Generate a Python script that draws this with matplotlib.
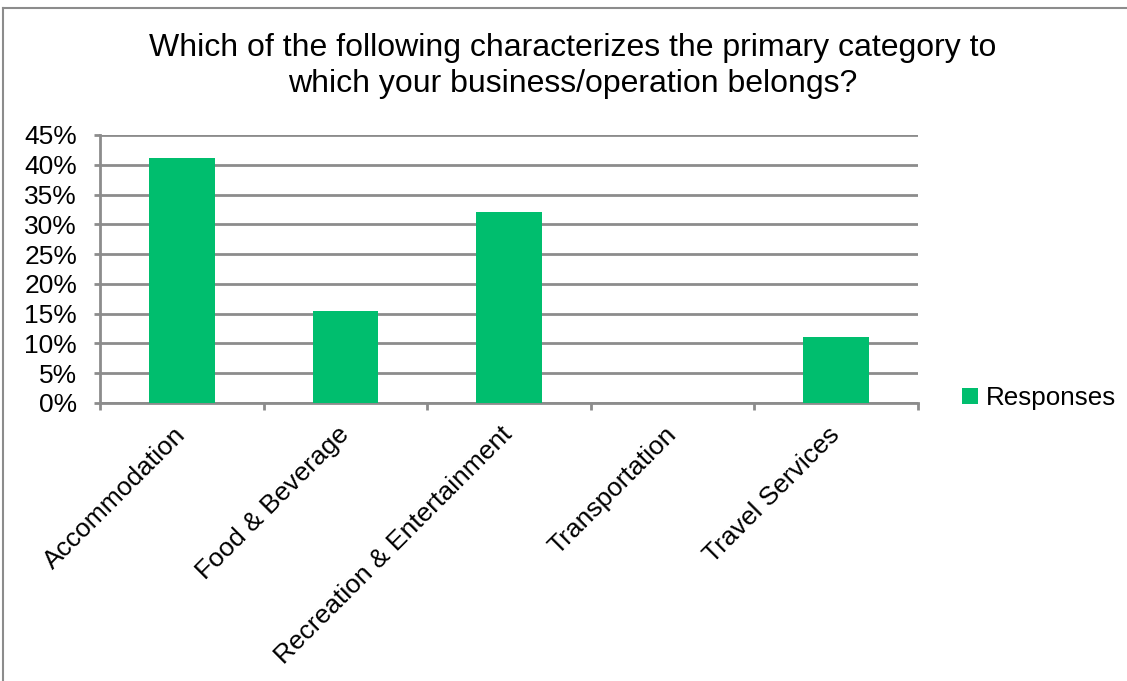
import matplotlib
matplotlib.use("Agg")
import matplotlib.pyplot as plt
from matplotlib.lines import Line2D
from matplotlib.patches import Patch

categories = ["Accommodation", "Food & Beverage", "Recreation & Entertainment",
              "Transportation", "Travel Services"]
responses = [41.2, 15.5, 32.0, 0.0, 11.0]
yticks = [0, 5, 10, 15, 20, 25, 30, 35, 40, 45]
title = "Which of the following characterizes the primary category to\nwhich your business/operation belongs?"
series_name = "Responses"

W, H = 1127, 681
plt.rcParams['font.family'] = ['Liberation Sans', 'DejaVu Sans']
fig = plt.figure(figsize=(W / 100, H / 100), dpi=100)

green = "#00BE6E"
grid_c = "#8C8C8C"

ax = fig.add_axes([100 / W, (H - 403) / H, (918 - 100) / W, (403 - 135) / H])
x = list(range(len(categories)))
ax.bar(x, responses, width=0.4, color=green, zorder=3, label=series_name)
ax.set_xlim(-0.5, len(categories) - 0.5)
ax.set_ylim(0, 45)
ax.set_yticks(yticks)
ax.set_yticklabels([f"{v}%" for v in yticks], fontsize=19)
ax.yaxis.grid(True, color=grid_c, linewidth=2, zorder=0)
ax.set_axisbelow(True)
for s in ["top", "right"]:
    ax.spines[s].set_visible(False)
ax.spines["left"].set_color(grid_c)
ax.spines["left"].set_linewidth(2)
ax.spines["bottom"].set_color(grid_c)
ax.spines["bottom"].set_linewidth(2)
ax.tick_params(axis="y", direction="out", length=4.5, width=2, color=grid_c, pad=12)

# x ticks at category boundaries
ax.set_xticks([i - 0.5 for i in range(len(categories) + 1)])
ax.set_xticklabels([])
ax.tick_params(axis="x", direction="out", length=5, width=2, color=grid_c)
ax.set_xticks(x, minor=True)
ax.set_xticklabels(categories, minor=True, rotation=45, ha="right",
                   rotation_mode="anchor", fontsize=19)
ax.tick_params(axis="x", which="minor", length=0, pad=20)
for lbl in ax.get_xticklabels(minor=True):
    lbl.set_va("center")

fig.text(573 / W, 1 - 66 / H, title, ha="center", va="center", fontsize=23,
         linespacing=1.22)

handles = [Patch(facecolor=green, edgecolor="none", label=series_name)]
fig.legend(handles=handles, loc="center left", bbox_to_anchor=(952 / W, 1 - 398 / H),
           frameon=False, fontsize=18.7, handlelength=0.6, handleheight=0.6,
           handletextpad=0.3, borderaxespad=0)

# outer chart border (only top and left visible)
fig.add_artist(Line2D([3 / W, 3 / W], [0, 1 - 8 / H], transform=fig.transFigure,
                      color=grid_c, linewidth=1.5))
fig.add_artist(Line2D([3 / W, 1], [1 - 8 / H, 1 - 8 / H], transform=fig.transFigure,
                      color=grid_c, linewidth=1.5))

fig.savefig("out.png", dpi=100, facecolor="white")
